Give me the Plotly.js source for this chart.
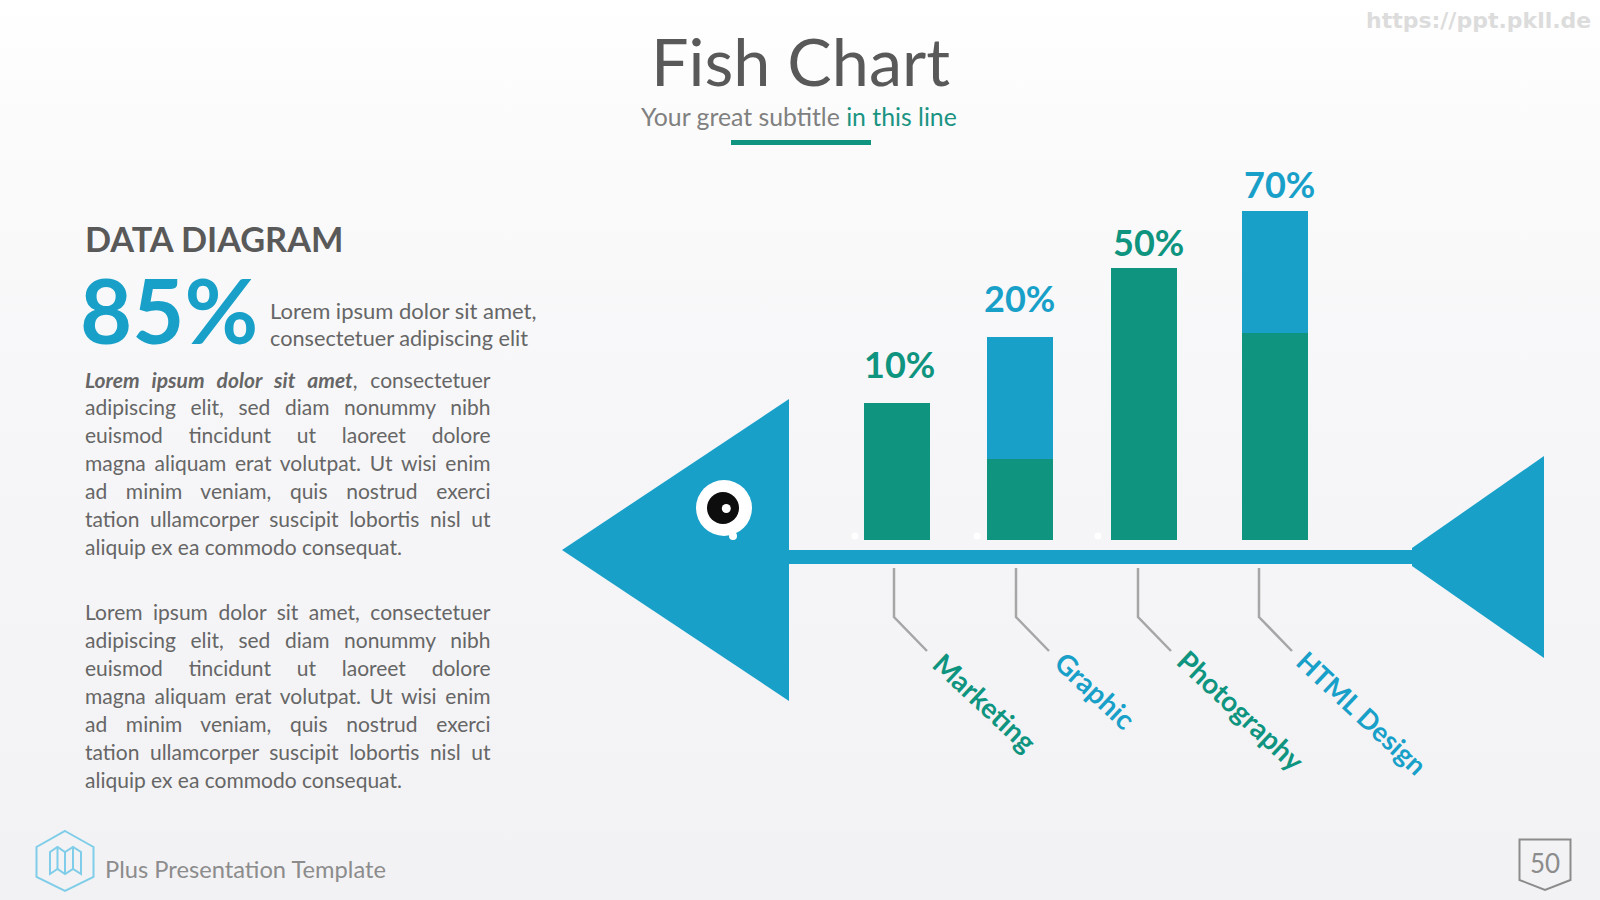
<!DOCTYPE html>
<html>
<head>
<meta charset="utf-8">
<script src="https://cdn.plot.ly/plotly-3.0.1.min.js"></script>
<style>
html,body{margin:0;padding:0;width:1600px;height:900px;overflow:hidden;
background:linear-gradient(180deg,#ffffff 0%,#fbfbfc 14%,#f6f6f8 50%,#f2f2f4 100%);}
#chart{width:1600px;height:900px;}
</style>
</head>
<body>
<div id="chart"></div>
<script>
// ---------- data ----------
const categories = ['Marketing', 'Graphic', 'Photography', 'HTML Design'];
const percentLabels = ['10%', '20%', '50%', '70%'];
const greenValues = [29.1, 17.2, 57.8, 44.0];
const blueValues = [0, 25.9, 0, 26.0];
const labelColors = ['green', 'blue', 'green', 'blue'];
const paragraphOne = [
  '<b><i>Lorem ipsum dolor sit amet</i></b>, consectetuer',
  'adipiscing elit, sed diam nonummy nibh',
  'euismod tincidunt ut laoreet dolore',
  'magna aliquam erat volutpat. Ut wisi enim',
  'ad minim veniam, quis nostrud exerci',
  'tation ullamcorper suscipit lobortis nisl ut',
  'aliquip ex ea commodo consequat.'
];
const paragraphTwo = [
  'Lorem ipsum dolor sit amet, consectetuer',
  'adipiscing elit, sed diam nonummy nibh',
  'euismod tincidunt ut laoreet dolore',
  'magna aliquam erat volutpat. Ut wisi enim',
  'ad minim veniam, quis nostrud exerci',
  'tation ullamcorper suscipit lobortis nisl ut',
  'aliquip ex ea commodo consequat.'
];

// ---------- style ----------
const GREEN = '#0f9480', BLUE = '#18a0c9', DARK = '#595959', TEXT = '#666666', GREY = '#a6a6a6';
const W = 1600, H = 900;
const px = v => v / W, py = v => 1 - v / H;
const FONT = 'Lato, sans-serif';

const slot = 126, barW = 66, baseY = 540, unit = 4.7;
const barShift = [3, 0, -2, 3];
const xLeft = 831, yMax = 85;
const offsets = barShift.map(s => -barW / slot / 2 + s / slot);
const widths = categories.map(() => barW / slot);

const colourOf = k => k === 'green' ? GREEN : BLUE;
const bar = (vals, color, name) => ({
  type: 'bar', x: categories, y: vals, name, width: widths, offset: offsets,
  marker: {color, line: {width: 0}}, hoverinfo: 'skip', showlegend: false
});

// ---------- decoration ----------
const poly = (pts, closed) => 'M' + pts.map(p => px(p[0]) + ',' + py(p[1])).join('L') + (closed ? 'Z' : '');
const shapes = [];
const fill = (pts, color) => shapes.push({type: 'path', xref: 'paper', yref: 'paper', path: poly(pts, true), fillcolor: color, line: {width: 0}, layer: 'below'});
const stroke = (pts, color, w, closed) => shapes.push({type: 'path', xref: 'paper', yref: 'paper', path: poly(pts, closed), line: {color, width: w}, layer: 'below'});
const circle = (cx, cy, r, color) => shapes.push({type: 'circle', xref: 'paper', yref: 'paper', x0: px(cx - r), x1: px(cx + r), y0: py(cy + r), y1: py(cy - r), fillcolor: color, line: {width: 0}, layer: 'below'});

fill([[562, 550], [789, 399], [789, 701]], BLUE);
fill([[789, 550], [1414, 550], [1414, 564], [789, 564]], BLUE);
fill([[1412, 548], [1544, 456], [1544, 658], [1412, 566]], BLUE);
circle(733, 536, 4, '#ffffff');
circle(724, 508, 28, '#ffffff');
circle(723, 508, 16, '#0d0d0d');
circle(726.3, 508.5, 4.5, '#ffffff');
[855, 977, 1098].forEach(x => circle(x, 536, 3.5, '#ffffff'));
fill([[731, 140], [871, 140], [871, 145], [731, 145]], GREEN);

[894, 1016, 1138, 1259].forEach(x => stroke([[x, 568], [x, 617], [x + 33, 651]], GREY, 2.5));

const ICON = '#7fcde8';
stroke([[65, 831], [93.5, 847], [93.5, 877], [65, 891], [36.5, 877], [36.5, 847]], ICON, 2, true);
stroke([[50, 852], [57.5, 847], [65, 852], [73, 847], [81, 852], [81, 874], [73, 869], [65, 874], [57.5, 869], [50, 874]], ICON, 2, true);
stroke([[57.5, 847], [57.5, 869]], ICON, 2);
stroke([[65, 852], [65, 874]], ICON, 2);
stroke([[73, 847], [73, 869]], ICON, 2);
stroke([[1519.5, 839.5], [1570.5, 839.5], [1570.5, 880], [1545, 890], [1519.5, 880]], '#8c8c8c', 2, true);

// ---------- text ----------
const ann = [];
const label = (x, y, text, size, color, anchor, extra) => ann.push(Object.assign({
  xref: 'paper', yref: 'paper', x: px(x), y: py(y), text, showarrow: false,
  xanchor: anchor || 'left', yanchor: 'middle', align: anchor === 'center' ? 'center' : 'left',
  font: {family: FONT, size, color}, borderpad: 0, borderwidth: 0
}, extra || {}));

label(800.5, 60, 'Fish Chart', 66.5, DARK, 'center');
label(799, 116.5, 'Your great subtitle <span style="color:#1a9482">in this line</span>', 24.8, '#808080', 'center');
label(85, 238, 'DATA DIAGRAM', 34.3, DARK, 'left', {font: {family: FONT, size: 34.3, color: DARK, weight: 700}});
label(79.5, 309, '85%', 90, BLUE, 'left', {font: {family: FONT, size: 90, color: BLUE, weight: 700}});
label(270, 310, 'Lorem ipsum dolor sit amet,', 22, TEXT);
label(270, 338, 'consectetuer adipiscing elit', 21.7, TEXT);
label(105, 869, 'Plus Presentation Template', 23.7, '#8c8c8c');
label(1545, 862.5, '50', 26, '#8c8c8c', 'center');
label(1591, 21, 'https://ppt.pkll.de', 22, '#dcdcdc', 'right', {font: {family: 'DejaVu Sans, sans-serif', size: 22, color: '#dcdcdc', weight: 700}});

const paraTop = [379, 611.5], lineGap = 27.95;
[paragraphOne, paragraphTwo].forEach((para, p) => para.forEach((line, i) => {
  label(85, paraTop[p] + i * lineGap, line, 21, TEXT, 'left');
}));

const labelCentres = [[985, 702], [1095, 690], [1241, 710], [1362, 712]];
const labelSizes = [28, 28, 28, 27];
categories.forEach((c, i) => label(labelCentres[i][0], labelCentres[i][1], c, labelSizes[i], colourOf(labelColors[i]), 'center',
  {textangle: 43, font: {family: FONT, size: labelSizes[i], color: colourOf(labelColors[i]), weight: 700}}));

const labelX = [5.5, -1, 2.5, 7], labelY = [39, 39, 26, 27];
categories.forEach((c, i) => ann.push({
  xref: 'x', yref: 'y', x: c, y: greenValues[i] + blueValues[i], text: percentLabels[i], showarrow: false,
  xanchor: 'center', yanchor: 'middle', xshift: labelX[i], yshift: labelY[i],
  font: {family: FONT, size: 36, color: colourOf(labelColors[i]), weight: 700}
}));

const layout = {
  width: W, height: H, margin: {l: 0, r: 0, t: 0, b: 0}, autosize: false,
  paper_bgcolor: 'rgba(0,0,0,0)', plot_bgcolor: 'rgba(0,0,0,0)',
  barmode: 'stack', showlegend: false, hovermode: false,
  xaxis: {type: 'category', categoryorder: 'array', categoryarray: categories, range: [-0.5, 3.5],
    domain: [px(xLeft), px(xLeft + slot * 4)], visible: false, fixedrange: true},
  yaxis: {range: [0, yMax], domain: [py(baseY), py(baseY - yMax * unit)], visible: false, fixedrange: true},
  shapes, annotations: ann
};

Plotly.newPlot('chart', [bar(greenValues, GREEN, 'Green'), bar(blueValues, BLUE, 'Blue')], layout, {displayModeBar: false, staticPlot: true})
.then(() => {
  // justify the paragraph lines to the column width, last line excluded
  const plain = s => s.replace(/<[^>]+>/g, '');
  const justify = new Set();
  [paragraphOne, paragraphTwo].forEach(par => par.slice(0, -1).forEach(l => justify.add(plain(l))));
  document.querySelectorAll('.annotation-text').forEach(t => {
    const s = t.textContent;
    if (!justify.has(s)) return;
    const gaps = s.split(' ').length - 1;
    const len = t.getComputedTextLength();
    t.style.wordSpacing = ((405.5 - len) / gaps) + 'px';
  });
});
</script>
</body>
</html>
